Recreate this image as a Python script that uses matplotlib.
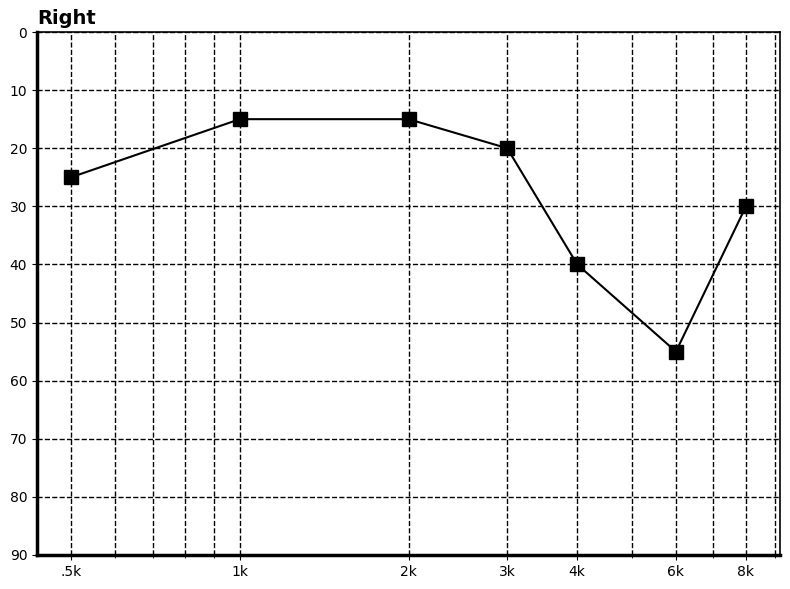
import matplotlib
matplotlib.use("Agg")
import matplotlib.pyplot as plt
from matplotlib.ticker import FixedLocator, NullFormatter

freqs = [500, 1000, 2000, 3000, 4000, 6000, 8000]
levels = [25, 15, 15, 20, 40, 55, 30]
tick_labels = [".5k", "1k", "2k", "3k", "4k", "6k", "8k"]
minor_freqs = [600, 700, 800, 900, 5000, 7000, 9000]
y_ticks = [0, 10, 20, 30, 40, 50, 60, 70, 80, 90]

fig = plt.figure(figsize=(7.9, 5.89), dpi=100)
ax = fig.add_axes([37/790, 1-555/589, (780-37)/790, (555-32)/589])

ax.plot(freqs, levels, color="black", linewidth=1.5, marker="s",
        markersize=10, markerfacecolor="black", markeredgecolor="black", zorder=3)

ax.set_xscale("log")
ax.set_xlim(500/1.15, 8000*1.15)
ax.set_ylim(90, 0)
ax.xaxis.set_major_locator(FixedLocator(freqs))
ax.set_xticklabels(tick_labels)
ax.xaxis.set_minor_locator(FixedLocator(minor_freqs))
ax.xaxis.set_minor_formatter(NullFormatter())
ax.set_yticks(y_ticks)

ax.grid(True, which="both", axis="x", color="black", linestyle="--", linewidth=1)
ax.grid(True, which="major", axis="y", color="black", linestyle="--", linewidth=1)

ax.spines["left"].set_linewidth(2.5)
ax.spines["bottom"].set_linewidth(2.5)
ax.spines["top"].set_linewidth(1.2)
ax.spines["right"].set_linewidth(1.2)
ax.tick_params(axis="both", labelsize=10)

ax.set_title("Right", loc="left", fontweight="bold", fontsize=14)

fig.savefig("out.png", dpi=100)
